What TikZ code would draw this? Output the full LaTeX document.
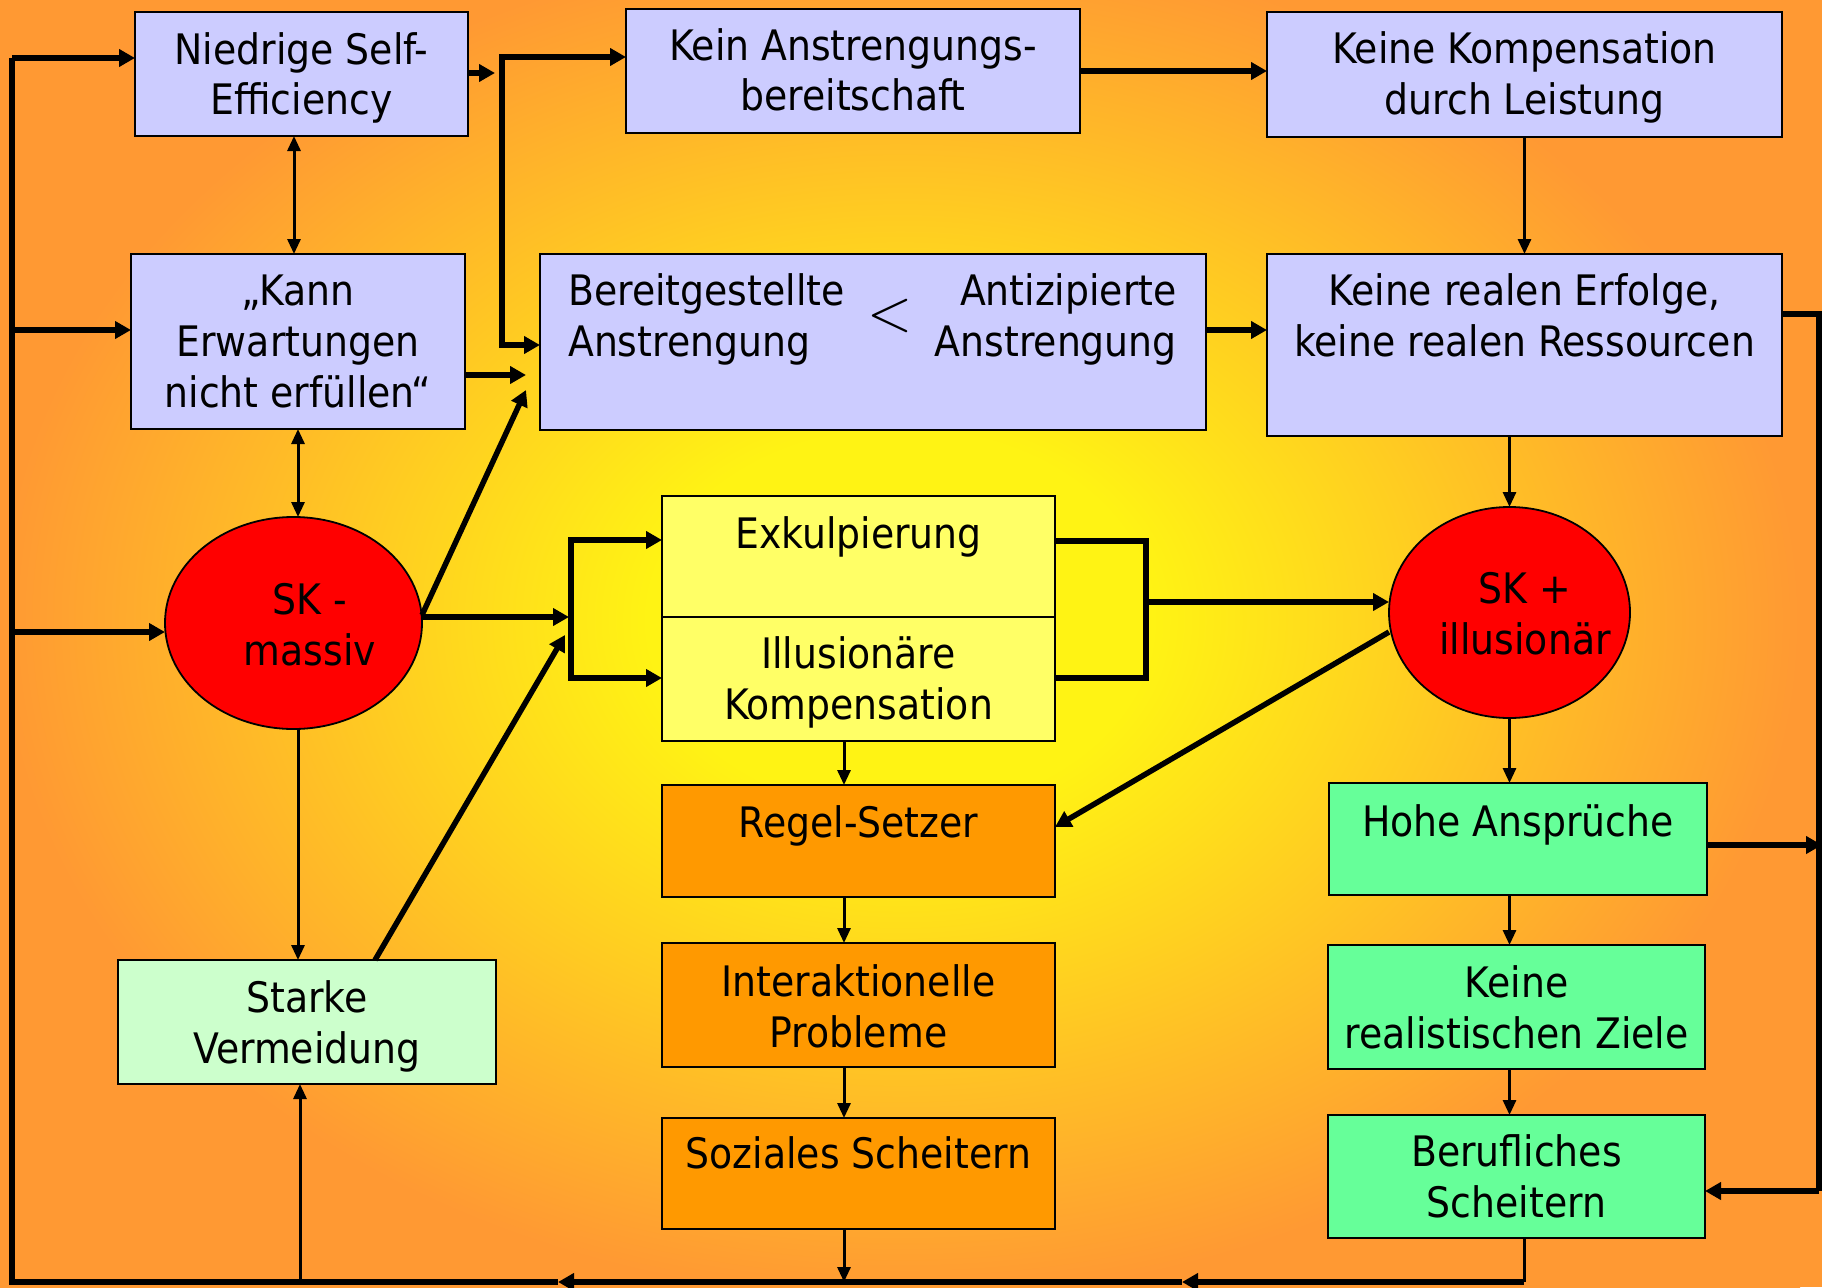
\documentclass[tikz,border=0pt]{standalone}
\usepackage{fontspec}
\usepackage{graphicx}
\setmainfont{DejaVu Sans Condensed}
\usetikzlibrary{arrows.meta,shapes.geometric}
\definecolor{yel}{RGB}{255,243,20}
\definecolor{org}{RGB}{255,153,51}
\definecolor{lav}{RGB}{204,204,255}
\definecolor{lyel}{RGB}{255,255,102}
\definecolor{obox}{RGB}{255,153,0}
\definecolor{gbox}{RGB}{102,255,153}
\definecolor{lgbox}{RGB}{204,255,204}
\pgfdeclareradialshading{bgshade}{\pgfpoint{0bp}{0bp}}{color(0bp)=(yel); color(7bp)=(yel); color(25bp)=(org); color(50bp)=(org)}
\tikzset{
 box/.style={draw=black, line width=2.2pt, inner sep=0pt, outer sep=0pt, anchor=north west},
 oval/.style={ellipse, draw=black, line width=1.8pt, fill=red, inner sep=0pt, outer sep=0pt},
 txt/.style={font=\fontsize{42}{51}\selectfont, align=center, inner sep=0pt, anchor=base},
 thk/.style={line width=5.5pt},
 thn/.style={line width=3pt},
 thkarr/.style={thk, -{Triangle[length=16pt,width=17pt]}},
 thnarr/.style={thn, -{Triangle[length=15pt,width=13pt]}},
 dbl/.style={thn, {Triangle[length=15pt,width=13pt]}-{Triangle[length=15pt,width=13pt]}},
 thkdbl/.style={thk, {Triangle[length=16pt,width=17pt]}-{Triangle[length=16pt,width=17pt]}},
}
\begin{document}
\begin{tikzpicture}[x=1pt,y=-1pt]
\useasboundingbox (0,0) rectangle (1822,1287);
\fill[org] (0,0) rectangle (1822,1287);
\shade[shading=bgshade] (0,-60) rectangle (1800,1300);

% boxes
\node[box, fill=lav, minimum width=333pt, minimum height=124pt] (nse) at (135,12) {};
\node[box, fill=lav, minimum width=454pt, minimum height=124pt] (kan) at (626,9) {};
\node[box, fill=lav, minimum width=515pt, minimum height=125pt] (kkl) at (1267,12) {};
\node[box, fill=lav, minimum width=334pt, minimum height=175pt] (kann) at (131,254) {};
\node[box, fill=lav, minimum width=666pt, minimum height=176pt] (ber) at (540,254) {};
\node[box, fill=lav, minimum width=515pt, minimum height=182pt] (kre) at (1267,254) {};
\node[box, fill=lyel, minimum width=393pt, minimum height=121pt] (exk) at (662,496) {};
\node[box, fill=lyel, minimum width=393pt, minimum height=124pt] (ill) at (662,617) {};
\node[box, fill=obox, minimum width=393pt, minimum height=112pt] (reg) at (662,785) {};
\node[box, fill=obox, minimum width=393pt, minimum height=124pt] (int) at (662,943) {};
\node[box, fill=obox, minimum width=393pt, minimum height=111pt] (soz) at (662,1118) {};
\node[box, fill=gbox, minimum width=378pt, minimum height=112pt] (hoh) at (1329,783) {};
\node[box, fill=gbox, minimum width=377pt, minimum height=124pt] (kzi) at (1328,945) {};
\node[box, fill=gbox, minimum width=377pt, minimum height=123pt] (bsc) at (1328,1115) {};
\node[box, fill=lgbox, minimum width=378pt, minimum height=124pt] (sta) at (118,960) {};
\node[oval, minimum width=257pt, minimum height=212pt] (skm) at (293.5,623) {};
\node[oval, minimum width=241pt, minimum height=211pt] (skp) at (1509.5,612.5) {};

% texts (anchor = baseline of the last line)
\node[txt] (tnse) at (301.5,115) {Niedrige Self-\\Efficiency};
\node[txt] (tkan) at (853,111) {Kein Anstrengungs-\\bereitschaft};
\node[txt] (tkkl) at (1524.5,114) {Keine Kompensation\\durch Leistung};
\node[txt] (tkann) at (298,407) {„Kann\\Erwartungen\\nicht erfüllen“};
\node[txt, anchor=base west, align=left] (tber) at (568,356) {Bereitgestellte\\Anstrengung};
\node[txt, anchor=base east, align=right] (tant) at (1177,356) {Antizipierte\\Anstrengung};
\node[inner sep=0pt] (tlt) at (890,316) {\scalebox{5.8}{$<$}};
\node[txt] (tkre) at (1524.5,356) {Keine realen Erfolge,\\keine realen Ressourcen};
\node[txt] (tskm) at (310,665) {SK -\\massiv};
\node[txt] (texk) at (858.5,548) {Exkulpierung};
\node[txt] (till) at (858.5,719) {Illusionäre\\Kompensation};
\node[txt] (tskp) at (1525,654) {SK +\\illusionär};
\node[txt] (treg) at (858.5,837) {Regel-Setzer};
\node[txt] (thoh) at (1518,836) {Hohe Ansprüche};
\node[txt] (tsta) at (307,1063) {Starke\\Vermeidung};
\node[txt] (tint) at (858.5,1047) {Interaktionelle\\Probleme};
\node[txt] (tsoz) at (858.5,1168) {Soziales Scheitern};
\node[txt] (tkzi) at (1516.5,1048) {Keine\\realistischen Ziele};
\node[txt] (tbsc) at (1516.5,1217) {Berufliches\\Scheitern};

% helper coordinates
\coordinate (bR) at (1524,1282);
\coordinate (bL) at (12,1282);
\coordinate (tL) at (12,58);
\coordinate (lA) at (12,330);
\coordinate (lB) at (12,632);
\coordinate (mA) at (1182,1282);
\coordinate (mB) at (558,1282);
\coordinate (rT) at (1819,314);
\coordinate (rB) at (1819,1191);
\coordinate (rH) at (1822,845);
\coordinate (nA) at (495,73);
\coordinate (v1T) at (502,57);
\coordinate (v1B) at (502,345);
\coordinate (kA) at (526,375);
\coordinate (kB) at (526,390);
\coordinate (lbT) at (571,540);
\coordinate (lbB) at (571,678);
\coordinate (lbM) at (569,617);
\coordinate (lbD) at (565,635);
\coordinate (rbT) at (1146,541);
\coordinate (rbB) at (1146,678);
\coordinate (rbM) at (1146,602);

% bottom / left loop
\draw[thn] (bsc.south -| bR) -- (bR);
\draw[thkarr] (bR) -- (mA);
\draw[thkarr] (mA) -- (mB);
\draw[thk] (mB) -- (bL) -- (tL);
\draw[thkarr] (tL) -- (tL -| nse.west);
\draw[thkarr] (lA) -- (lA -| kann.west);
\draw[thkarr] (lB) -- (lB -| skm.west);
\draw[thnarr] ([xshift=-14.5pt]soz.south) -- ([xshift=-14.5pt]soz.south |- bL);
\draw[thnarr] ([xshift=-7pt]sta.south |- bL) -- ([xshift=-7pt]sta.south);

% right loop
\draw[thk] (kre.east |- rT) -- (rT) -- (rB);
\draw[thkarr] (rB) -- (rB -| bsc.east);
\draw[thkarr] (rH -| hoh.east) -- (rH);

% top left
\draw[thkarr] (nA -| nse.east) -- (nA);
\draw[thkdbl] (v1T -| kan.west) -- (v1T) -- (v1B) -- (v1B -| ber.west);
\draw[thkarr] (kA -| kann.east) -- (kA);
\draw[thkarr] ([yshift=8pt]skm.east) -- (kB);
\draw[dbl] ([xshift=-7.5pt]nse.south) -- ([xshift=-7.5pt]nse.south |- kann.north);
\draw[dbl] (kann.south) -- (kann.south |- skm.north);
\draw[thnarr] (skm.south -| kann.south) -- (kann.south |- sta.north);

% middle
\draw[thkarr] ([xshift=68pt]sta.north) -- (lbD);
\draw[thkarr] (skm.east |- lbM) -- (lbM);
\draw[thkdbl] (lbT -| exk.west) -- (lbT) -- (lbB) -- (lbB -| ill.west);
\draw[thk] (rbT -| exk.east) -- (rbT) -- (rbB) -- (rbB -| ill.east);
\draw[thkarr] (rbM) -- (rbM -| skp.west);
\draw[thkarr] ([yshift=-19.5pt]skp.west) -- ([yshift=14pt]reg.east);
\draw[thnarr] ([xshift=-14.5pt]ill.south) -- ([xshift=-14.5pt]reg.north);
\draw[thnarr] ([xshift=-14.5pt]reg.south) -- ([xshift=-14.5pt]int.north);
\draw[thnarr] ([xshift=-14.5pt]int.south) -- ([xshift=-14.5pt]soz.north);

% top right
\draw[thkarr] (kan.east) -- (kan.east -| kkl.west);
\draw[thnarr] (kkl.south) -- (kre.north);
\draw[thkarr] ([yshift=12pt]ber.east) -- ([yshift=12pt]ber.east -| kre.west);
\draw[thnarr] (kre.south -| skp.north) -- (skp.north);
\draw[thnarr] (skp.south) -- (skp.south |- hoh.north);
\draw[thnarr] (hoh.south -| skp.south) -- (skp.south |- kzi.north);
\draw[thnarr] (kzi.south -| skp.south) -- (skp.south |- bsc.north);
\end{tikzpicture}
\end{document}
